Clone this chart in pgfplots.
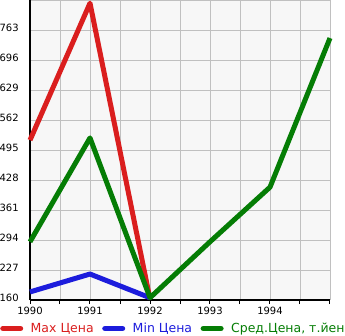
\documentclass[border=0pt]{standalone}
\usepackage{pgfplots}
\pgfplotsset{compat=1.18}
\usepackage{fontspec}
\setmainfont{DejaVu Sans}
\definecolor{cred}{RGB}{218,30,30}
\definecolor{cblue}{RGB}{28,28,220}
\definecolor{cgreen}{RGB}{5,125,5}
\definecolor{cgrid}{RGB}{192,192,192}
\definecolor{cbg}{RGB}{247,247,247}
\begin{document}
\begin{tikzpicture}[x=1pt,y=1pt]
\useasboundingbox (0,0) rectangle (345,335);
\begin{axis}[
  at={(30pt,35pt)}, anchor=south west,
  scale only axis, width=300pt, height=300pt,
  xmin=1990, xmax=1995, ymin=160, ymax=830,
  axis background/.style={fill=cbg},
  axis x line*=bottom, axis y line*=left,
  axis line style={black, line width=1.8pt, -},
  xtick={1990,1990.5,...,1995},
  xticklabels={1990,,1991,,1992,,1993,,1994,,},
  ytick={160,227,294,361,428,495,562,629,696,763,830},
  yticklabels={160,227,294,361,428,495,562,629,696,763,},
  grid=major,
  major grid style={cgrid, line width=0.9pt},
  tick align=outside,
  major tick length=4pt,
  xtick style={black, line width=1pt},
  ytick style={draw=none},
  /pgf/number format/assume math mode=true,
  ticklabel style={font=\fontsize{10}{12}\selectfont},
  yticklabel style={anchor=west, xshift=-30pt, yshift=2pt},
  clip=false,
  legend columns=3,
  legend style={at={(-0.1,-0.095)}, anchor=west, draw=none, fill=none,
    font=\fontsize{12.5}{14}\selectfont, inner sep=0pt,
    nodes={inner sep=0pt},
    /tikz/every odd column/.append style={column sep=7.5pt},
    /tikz/every even column/.append style={column sep=8.5pt}},
  legend image code/.code={\path[draw=none,fill=none] (0pt,-3pt) rectangle (23pt,3pt);\draw[#1, line width=5.5pt, line cap=round] (2.75pt,0pt) -- (20.25pt,0pt);},
  every axis plot/.append style={line width=5pt, line join=round},
]
\addplot[cred] coordinates {(1990,517) (1991,823) (1992,162)};
\addlegendentry{\textcolor{cred}{Max Цена}}
\addplot[cblue] coordinates {(1990,178) (1991,218) (1992,165)};
\addlegendentry{\textcolor{cblue}{Min Цена}}
\addplot[cgreen] coordinates {(1990,290) (1991,522) (1992,165) (1993,290) (1994,412) (1995,745)};
\addlegendentry{\textcolor{cgreen}{Сред.Цена, т.йен}}
\end{axis}
\end{tikzpicture}
\end{document}
